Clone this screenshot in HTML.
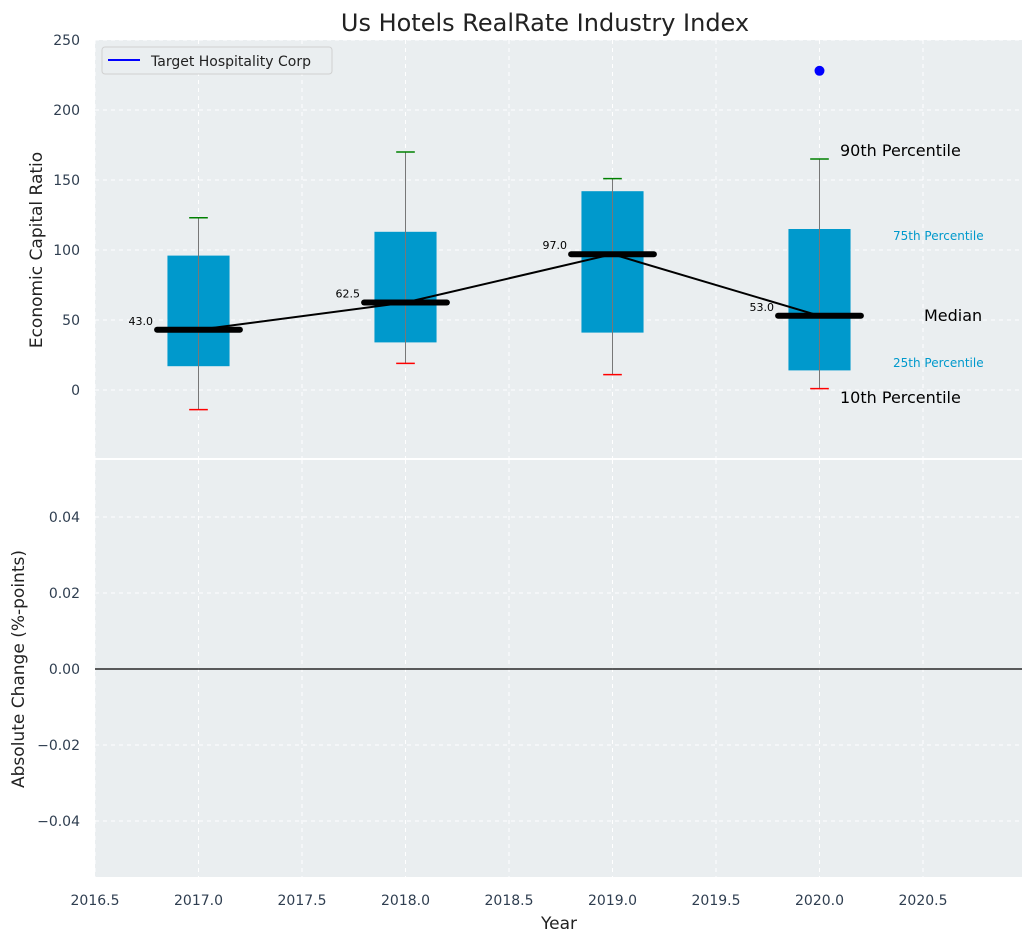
<!DOCTYPE html>
<html><head><meta charset="utf-8"><style>
body{margin:0;background:#fff;font-family:"DejaVu Sans","Liberation Sans",sans-serif;}
</style></head><body>
<svg id="c" width="1034" height="942" xmlns="http://www.w3.org/2000/svg"></svg>
<script>
const years=[2017,2018,2019,2020];
const p10=[-14,19,11,1];
const q1=[17,34,41,14];
const med=[43,62.5,97,53];
const q3=[96,113,142,115];
const p90=[123,170,151,165];
const companyYears=[2020];
const companyVals=[228];
const xTicks=[2016.5,2017,2017.5,2018,2018.5,2019,2019.5,2020,2020.5];
const yTicksTop=[0,50,100,150,200,250];
const yTicksBot=[-0.04,-0.02,0,0.02,0.04];

const NS="http://www.w3.org/2000/svg";
const svg=document.getElementById('c');
function el(t,a,p){const e=document.createElementNS(NS,t);for(const k in a)e.setAttribute(k,a[k]);(p||svg).appendChild(e);return e;}
const L=95,R=1022;
const X=v=>L+(v-2016.5)*207;
const Y1=v=>390-v*1.4;
const Y2=v=>669-v*3800;
const T1=40,B1=458,T2=460,B2=877;
// backgrounds
let e=el('rect',{x:L,y:T1,width:R-L,height:B1-T1,fill:'#eaeef0'});

e=el('rect',{x:L,y:T2,width:R-L,height:B2-T2,fill:'#eaeef0'});

// grids
xTicks.forEach(t=>{const x=X(t);
 el('line',{x1:x,x2:x,y1:T1,y2:B1,stroke:'#fff','stroke-dasharray':'4,4','stroke-width':1});
 el('line',{x1:x,x2:x,y1:T2,y2:B2,stroke:'#fff','stroke-dasharray':'4,4','stroke-width':1});
 e=el('text',{x:x,y:905,'text-anchor':'middle','font-size':14,fill:'#2f3e50'});e.textContent=t.toFixed(1);
 
});
yTicksTop.forEach(t=>{const y=Y1(t);
 el('line',{x1:L,x2:R,y1:y,y2:y,stroke:'#fff','stroke-dasharray':'4,4'});
 e=el('text',{x:80,y:y+5,'text-anchor':'end','font-size':14,fill:'#2f3e50'});e.textContent=t;
 
});
yTicksBot.forEach(t=>{const y=Y2(t);
 el('line',{x1:L,x2:R,y1:y,y2:y,stroke:'#fff','stroke-dasharray':'4,4'});
 e=el('text',{x:80,y:y+5,'text-anchor':'end','font-size':14,fill:'#2f3e50'});e.textContent=(t<0?'\u22120':'0')+Math.abs(t).toFixed(2).slice(1);
 
});
el('line',{x1:L,x2:R,y1:Y2(0),y2:Y2(0),stroke:'#000','stroke-width':1.2});
// boxes
years.forEach((yr,i)=>{const x=X(yr);
 const g=el('g',{});
 el('rect',{x:X(yr-0.15),y:Y1(q3[i]),width:X(yr+0.15)-X(yr-0.15),height:Y1(q1[i])-Y1(q3[i]),fill:'#0099cc'},g);
 el('line',{x1:x,x2:x,y1:Y1(p90[i]),y2:Y1(p10[i]),stroke:'#777','stroke-width':1},g);
 el('line',{x1:X(yr-0.045),x2:X(yr+0.045),y1:Y1(p90[i]),y2:Y1(p90[i]),stroke:'green','stroke-width':1.5},g);
 el('line',{x1:X(yr-0.045),x2:X(yr+0.045),y1:Y1(p10[i]),y2:Y1(p10[i]),stroke:'red','stroke-width':1.5},g);
 el('line',{x1:X(yr-0.2),x2:X(yr+0.2),y1:Y1(med[i]),y2:Y1(med[i]),stroke:'#000','stroke-width':6,'stroke-linecap':'round'},g);
 const t=el('text',{x:X(yr-0.22),y:Y1(med[i])-5,'text-anchor':'end','font-size':11,fill:'#000'},g);t.textContent=med[i].toFixed(1);
});
e=el('polyline',{points:years.map((y,i)=>X(y)+','+Y1(med[i])).join(' '),fill:'none',stroke:'#000','stroke-width':2});

companyYears.forEach((y,i)=>{e=el('circle',{cx:X(y),cy:Y1(companyVals[i]),r:5,fill:'blue'});
 });
// annotations
const ann=[[840,156,'90th Percentile',16,'#000'],[893,240,'75th Percentile',12,'#0099cc'],[924,321,'Median',16,'#000'],[893,367,'25th Percentile',12,'#0099cc'],[840,403,'10th Percentile',16,'#000']];
ann.forEach(a=>{e=el('text',{x:a[0],y:a[1],'font-size':a[3],fill:a[4]});e.textContent=a[2];
 });
// legend
e=el('g',{});
el('rect',{x:102,y:47,width:230,height:27,rx:3,fill:'#eaeef0',stroke:'#d0d0d0'},e);
el('line',{x1:108,x2:140,y1:60,y2:60,stroke:'blue','stroke-width':2},e);
let t=el('text',{x:151,y:66,'font-size':14,fill:'#222'},e);t.textContent='Target Hospitality Corp';
// titles
e=el('text',{x:545,y:31,'text-anchor':'middle','font-size':24,fill:'#222'});e.textContent='Us Hotels RealRate Industry Index';

e=el('text',{x:559,y:929,'text-anchor':'middle','font-size':17,fill:'#222'});e.textContent='Year';

e=el('text',{x:0,y:0,'text-anchor':'middle','font-size':17,fill:'#222',transform:'translate(42,250) rotate(-90)'});e.textContent='Economic Capital Ratio';

e=el('text',{x:0,y:0,'text-anchor':'middle','font-size':17,fill:'#222',transform:'translate(24,669) rotate(-90)'});e.textContent='Absolute Change (%-points)';

</script>
</body></html>
